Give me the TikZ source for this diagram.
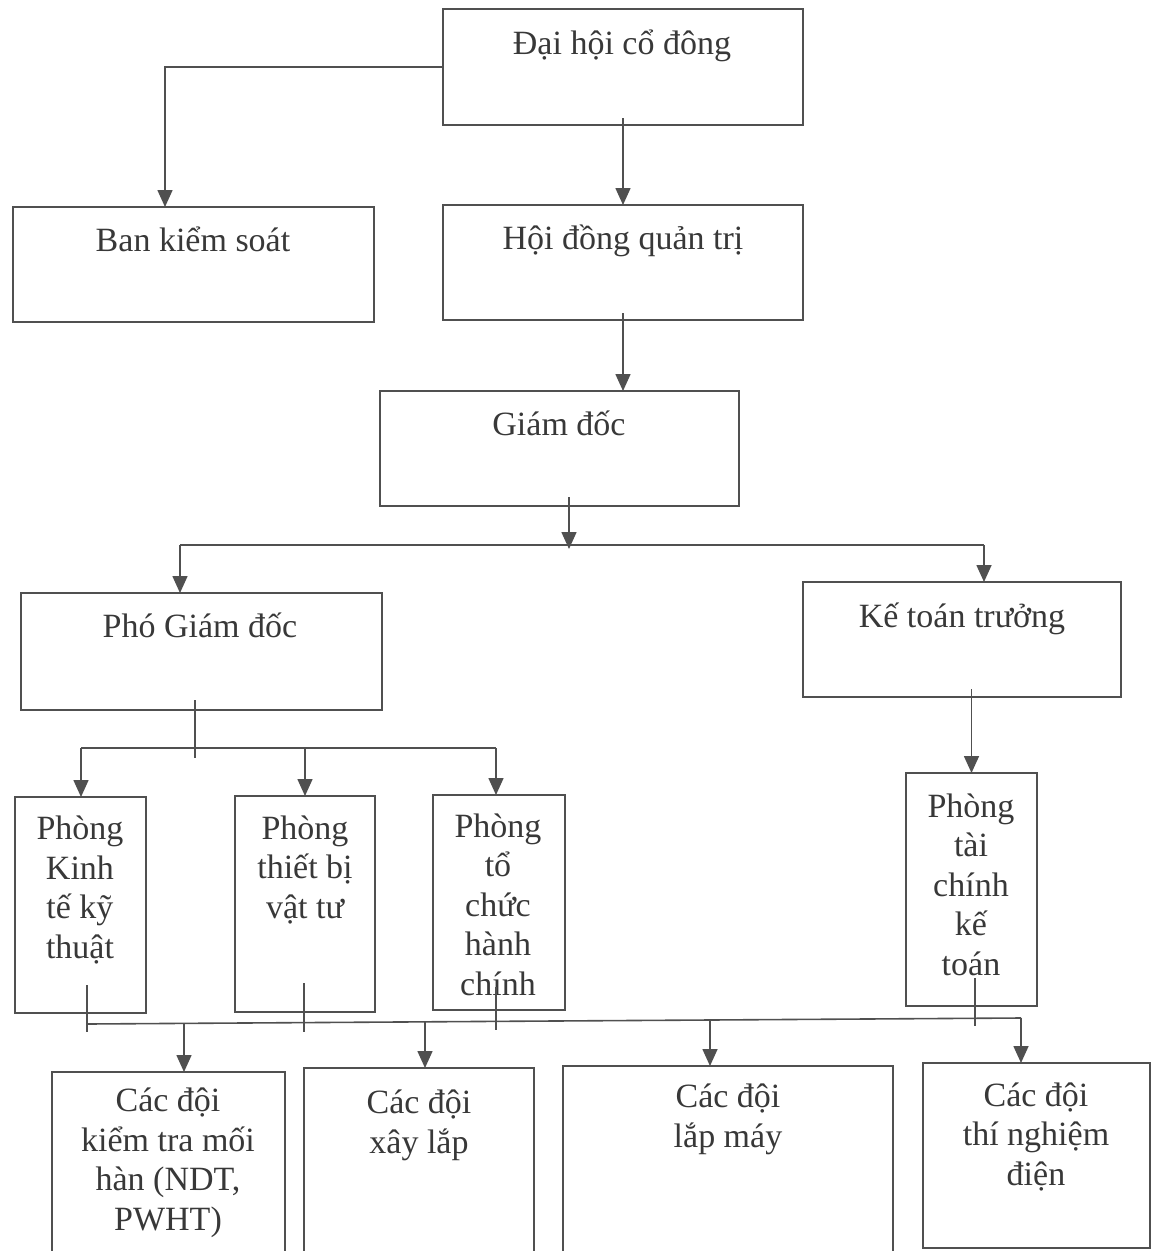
\documentclass[tikz,border=0pt]{standalone}
\usepackage{fontspec}
\setmainfont{Liberation Serif}
\usetikzlibrary{arrows.meta}
\definecolor{linec}{HTML}{505050}
\definecolor{textc}{HTML}{383838}
\begin{document}
\begin{tikzpicture}[x=1pt,y=-1pt,
  box/.style={draw=linec, line width=1.6pt, anchor=north west, inner sep=0pt, outer sep=0pt},
  txt/.style={inner sep=0pt, outer sep=0pt, align=center, anchor=base, text=textc, font=\fontsize{34}{39.5}\selectfont},
  conn/.style={draw=linec, line width=1.6pt},
  arr/.style={conn, -{Triangle[length=17pt,width=15pt]}}]
\useasboundingbox (0,0) rectangle (1158,1251);
\clip (0,0) rectangle (1158,1251);
% boxes
\node[box, minimum width=360pt, minimum height=116pt] (dh) at (443,9) {};
\node[box, minimum width=361pt, minimum height=115pt] (bks) at (13,207) {};
\node[box, minimum width=360pt, minimum height=115pt] (hdqt) at (443,205) {};
\node[box, minimum width=359pt, minimum height=115pt] (gd) at (380,391) {};
\node[box, minimum width=361pt, minimum height=117pt] (pgd) at (21,593) {};
\node[box, minimum width=318pt, minimum height=115pt] (ktt) at (803,582) {};
\node[box, minimum width=131pt, minimum height=216pt] (p1) at (15,797) {};
\node[box, minimum width=140pt, minimum height=216pt] (p2) at (235,796) {};
\node[box, minimum width=132pt, minimum height=215pt] (p3) at (433,795) {};
\node[box, minimum width=131pt, minimum height=233pt] (p4) at (906,773) {};
\node[box, minimum width=233pt, minimum height=200pt] (c1) at (52,1072) {};
\node[box, minimum width=230pt, minimum height=204pt] (c2) at (304,1068) {};
\node[box, minimum width=330pt, minimum height=206pt] (c3) at (563,1066) {};
\node[box, minimum width=227pt, minimum height=185pt] (c4) at (923,1063) {};
% texts (anchor base = baseline of the last line)
\node[txt] (tdh) at (622,54) {Đại hội cổ đông};
\node[txt] (tbks) at (193,251) {Ban kiểm soát};
\node[txt] (thdqt) at (623,249) {Hội đồng quản trị};
\node[txt] (tgd) at (559,435) {Giám đốc};
\node[txt] (tpgd) at (200,637) {Phó Giám đốc};
\node[txt] (tktt) at (962,627) {Kế toán trưởng};
\node[txt] (tp1) at (80,958) {Phòng\\Kinh\\tế kỹ\\thuật};
\node[txt] (tp2) at (305,918) {Phòng\\thiết bị\\vật tư};
\node[txt] (tp3) at (498,995) {Phòng\\tổ\\chức\\hành\\chính};
\node[txt] (tp4) at (971,975) {Phòng\\tài\\chính\\kế\\toán};
\node[txt] (tc1) at (168,1230) {Các đội\\kiểm tra mối\\hàn (NDT,\\PWHT)};
\node[txt] (tc2) at (419,1153) {Các đội\\xây lắp};
\node[txt] (tc3) at (728,1147) {Các đội\\lắp máy};
\node[txt] (tc4) at (1036,1185) {Các đội\\thí nghiệm\\điện};
% coordinates
\coordinate (ebks) at (165,207);
\coordinate (j1) at (569,549);
\coordinate (b1l) at (180,545);
\coordinate (b1r) at (984,545);
\coordinate (j2) at (195,758);
\coordinate (b2l) at (81,748);
\coordinate (b2m) at (305,748);
\coordinate (b2r) at (496,748);
\coordinate (t1) at (87,1032);
\coordinate (t2) at (304,1032);
\coordinate (t3) at (496,1030);
\coordinate (t4) at (975,1026);
\coordinate (b3l) at (87,1024);
\coordinate (b3r) at (1021,1018);
\coordinate (a1) at (184,1023.4);
\coordinate (a2) at (425,1021.8);
\coordinate (a3) at (710,1020);
% connectors
\draw[arr] (dh.west) -| (ebks);
\draw[arr] ([yshift=7pt]dh.south) -- (hdqt.north);
\draw[arr] ([yshift=7pt]hdqt.south) -- (hdqt.south |- gd.north);
\draw[arr] ([yshift=9pt]gd.south -| j1) -- (j1);
\draw[conn] (b1l) -- (b1r);
\draw[arr] (b1l) -- (b1l |- pgd.north);
\draw[arr] (b1r) -- (b1r |- ktt.north);
\draw[conn] ([yshift=10pt]pgd.south -| j2) -- (j2);
\draw[conn] (b2l) -- (b2r);
\draw[arr] (b2l) -- (b2l |- p1.north);
\draw[arr] (b2m) -- (b2m |- p2.north);
\draw[arr] (b2r) -- (b2r |- p3.north);
\draw[arr] ([yshift=8pt]ktt.south -| p4.north) -- (p4.north);
\draw[conn] ([yshift=28pt]p1.south -| t1) -- (t1);
\draw[conn] ([yshift=29pt]p2.south -| t2) -- (t2);
\draw[conn] ([yshift=23pt]p3.south -| t3) -- (t3);
\draw[conn] ([yshift=28pt]p4.south -| t4) -- (t4);
\draw[conn] (b3l) -- (b3r);
\draw[arr] (a1) -- (a1 |- c1.north);
\draw[arr] (a2) -- (a2 |- c2.north);
\draw[arr] (a3) -- (a3 |- c3.north);
\draw[arr] (b3r) -- (b3r |- c4.north);
\end{tikzpicture}
\end{document}
